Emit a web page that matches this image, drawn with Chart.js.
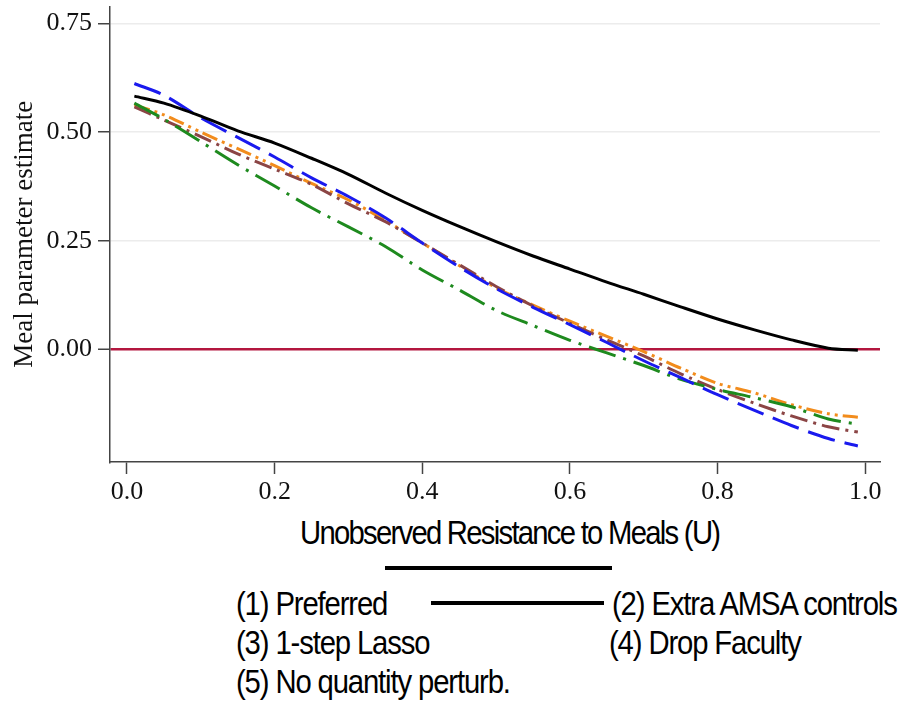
<!DOCTYPE html>
<html lang="en">
<head>
    <meta charset="UTF-8">
    <title>Meal parameter estimate</title>
    <script src="https://cdn.jsdelivr.net/npm/chart.js"></script>
    <style>
        body {
            margin: 0;
            background: #fff;
            width: 908px;
            height: 706px;
            position: relative;
            overflow: hidden;
        }

        /* shifted up so the plot area starts right at the top edge */
        #chart {
            position: absolute;
            left: 0;
            top: -15px;
        }

        .txt {
            position: absolute;
            font-family: 'Liberation Sans', Arial, sans-serif;
            color: #000;
            white-space: nowrap;
            line-height: 1;
            transform: scaleX(0.86);
            transform-origin: left top;
        }

        .xtitle {
            font-size: 34px;
            letter-spacing: -2px;
        }

        .leg {
            font-size: 34px;
            letter-spacing: -1.3px;
        }

        .rule {
            position: absolute;
            height: 4px;
            background: #000;
        }
    </style>
</head>
<body>

<canvas id="chart" width="908" height="525"></canvas>

<div class="txt xtitle" style="left:300px; top:515px;">Unobserved Resistance to Meals (U)</div>
<div class="rule" style="left:385px; width:227px; top:566px;"></div>

<div class="txt leg" style="left:236px; top:586px;">(1) Preferred</div>
<div class="rule" style="left:431px; width:173px; top:601px;"></div>
<div class="txt leg" style="left:612px; top:586px;">(2) Extra AMSA controls</div>
<div class="txt leg" style="left:236px; top:625px;">(3) 1-step Lasso</div>
<div class="txt leg" style="left:609px; top:625px;">(4) Drop Faculty</div>
<div class="txt leg" style="left:236px; top:664px;">(5) No quantity perturb.</div>

<script>
    // U grid and estimates
    const uValues = [0.01, 0.05, 0.10, 0.15, 0.20, 0.25, 0.30, 0.35, 0.40, 0.45, 0.50,
                     0.55, 0.60, 0.65, 0.70, 0.75, 0.80, 0.85, 0.90, 0.95, 0.99];

    const preferred = [0.583, 0.567, 0.537, 0.503, 0.475, 0.440, 0.403, 0.360, 0.320, 0.283, 0.248,
                       0.215, 0.185, 0.155, 0.127, 0.098, 0.070, 0.045, 0.022, 0.003, -0.002];
    const extraAmsa = [0.612, 0.585, 0.533, 0.488, 0.443, 0.395, 0.352, 0.303, 0.245, 0.190, 0.140,
                       0.097, 0.057, 0.016, -0.026, -0.065, -0.104, -0.140, -0.175, -0.205, -0.222];
    const lasso = [0.567, 0.530, 0.478, 0.425, 0.376, 0.326, 0.282, 0.237, 0.183, 0.137, 0.090,
                   0.055, 0.021, -0.008, -0.037, -0.069, -0.092, -0.111, -0.132, -0.160, -0.172];
    const dropFaculty = [0.558, 0.528, 0.490, 0.450, 0.415, 0.380, 0.335, 0.294, 0.245, 0.195, 0.145,
                         0.100, 0.060, 0.022, -0.015, -0.056, -0.092, -0.124, -0.153, -0.178, -0.190];
    const noQuantity = [0.563, 0.540, 0.500, 0.462, 0.423, 0.382, 0.344, 0.297, 0.245, 0.193, 0.142,
                        0.102, 0.065, 0.030, -0.005, -0.043, -0.078, -0.100, -0.127, -0.148, -0.156];

    const xTicks = [0.0, 0.2, 0.4, 0.6, 0.8, 1.0];
    const yTicks = [0.00, 0.25, 0.50, 0.75];

    function pts(ys) {
        return uValues.map((u, i) => ({ x: u, y: ys[i] }));
    }

    function line(label, ys, color, dash) {
        return {
            label: label,
            data: pts(ys),
            borderColor: color,
            borderWidth: 3,
            borderDash: dash,
            pointRadius: 0,
            tension: 0.3,
            fill: false
        };
    }

    const serif = "'Liberation Serif', 'Times New Roman', serif";

    new Chart(document.getElementById('chart'), {
        type: 'line',
        data: {
            datasets: [
                line('(1) Preferred', preferred, '#000000', []),
                line('(2) Extra AMSA controls', extraAmsa, '#1a1aee', [28, 10]),
                line('(3) 1-step Lasso', lasso, '#1e8a1e', [28, 8, 3, 8]),
                line('(4) Drop Faculty', dropFaculty, '#8b4545', [18, 6, 3, 6]),
                line('(5) No quantity perturb.', noQuantity, '#f28c1c', [16, 5, 3, 5, 3, 5])
            ]
        },
        options: {
            responsive: false,
            animation: false,
            devicePixelRatio: 1,
            layout: { padding: { top: 0, right: 28, bottom: 0, left: 0 } },
            plugins: {
                legend: { display: false },
                tooltip: { enabled: false }
            },
            scales: {
                x: {
                    type: 'linear',
                    min: -0.023,
                    max: 1.02,
                    afterBuildTicks: s => { s.ticks = xTicks.map(v => ({ value: v })); },
                    afterFit: s => { s.height = 48; },
                    ticks: {
                        callback: v => v.toFixed(1),
                        color: '#111',
                        font: { family: serif, size: 26 },
                        padding: 3,
                        maxRotation: 0
                    },
                    grid: {
                        drawOnChartArea: false,
                        drawTicks: true,
                        tickLength: 12,
                        tickColor: '#444',
                        tickWidth: 1.5
                    },
                    border: { display: true, color: '#444', width: 1.5 }
                },
                y: {
                    min: -0.259,
                    max: 0.789,
                    afterBuildTicks: s => { s.ticks = yTicks.map(v => ({ value: v })); },
                    afterFit: s => { s.width = 110; },
                    ticks: {
                        callback: v => v.toFixed(2),
                        color: '#111',
                        font: { family: serif, size: 26 },
                        padding: 6
                    },
                    grid: {
                        color: c => (c.tick && c.tick.value === 0) ? '#b3173f' : '#ececec',
                        lineWidth: c => (c.tick && c.tick.value === 0) ? 2.5 : 1.5,
                        tickLength: 12,
                        tickColor: '#444',
                        tickWidth: 1.5
                    },
                    border: { display: true, color: '#444', width: 1.5 },
                    title: {
                        display: true,
                        text: 'Meal parameter estimate',
                        color: '#111',
                        font: { family: serif, size: 27 },
                        padding: { top: 9, bottom: 0 }
                    }
                }
            }
        }
    });
</script>

</body>
</html>
